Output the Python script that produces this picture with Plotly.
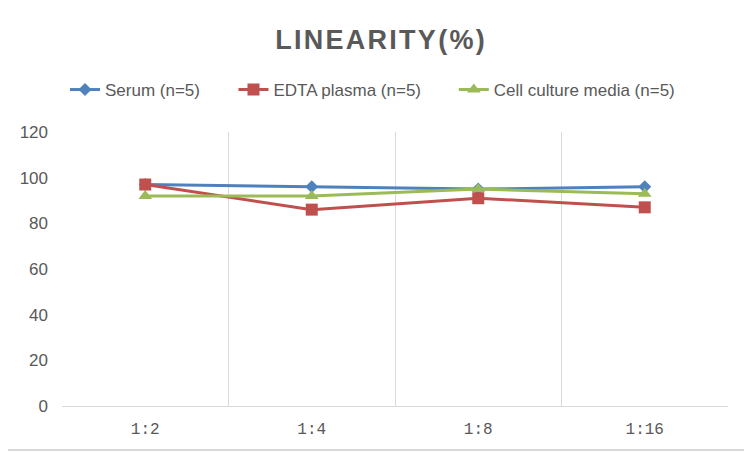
import plotly.graph_objects as go

categories = ["1:2", "1:4", "1:8", "1:16"]
serum = [97, 96, 95, 96]
edta_plasma = [97, 86, 91, 87]
cell_culture = [92, 92, 95, 93]
series_names = ["Serum (n=5)", "EDTA plasma (n=5)", "Cell culture media (n=5)"]
y_ticks = [0, 20, 40, 60, 80, 100, 120]

colors = ["#4f81bd", "#c0504d", "#9bbb59"]
symbols = ["diamond", "square", "triangle-up"]
msizes = [10, 12, 12]
legend_ids = ["legend", "legend2", "legend3"]
legend_px = [55, 224, 445]  # left edge of each legend entry, figure pixels

xpos = list(range(len(categories)))

# page body has an 8px margin, so the figure is drawn 8px smaller and shifted
W, H = 744, 444
ml, mr, mt, mb = 52, 24, 124, 46
pw, ph = W - ml - mr, H - mt - mb

fig = go.Figure()
for name, vals, c, s, ms, lg in zip(series_names, [serum, edta_plasma, cell_culture], colors, symbols, msizes, legend_ids):
    fig.add_trace(go.Scatter(x=xpos, y=vals, name=name, mode="lines+markers", legend=lg,
                             line=dict(color=c, width=3),
                             marker=dict(symbol=s, size=ms, color=c)))

title = "\u200a".join("LINEARITY(%)")

legend_style = dict(orientation="h", xanchor="left", y=(H - mb - 82) / ph, yanchor="middle",
                    font=dict(family="Liberation Sans", size=17, color="#595959"),
                    bgcolor="rgba(0,0,0,0)")

fig.update_layout(
    width=W, height=H,
    margin=dict(l=ml, r=mr, t=mt, b=mb),
    paper_bgcolor="white", plot_bgcolor="white",
    title=dict(text="<b>" + title + "</b>", x=0.5, xanchor="center", y=1 - 32 / H, yanchor="middle",
               font=dict(family="Liberation Sans", size=27, color="#595959")),
    showlegend=True,
    xaxis=dict(range=[-0.5, len(categories) - 0.5], tickmode="array", tickvals=xpos, ticktext=categories,
               showgrid=False, zeroline=False, showline=True, linecolor="#d9d9d9", linewidth=1,
               ticks="", ticklabelstandoff=8,
               tickfont=dict(family="Liberation Mono", size=16, color="#595959"),
               minor=dict(tickmode="array", tickvals=[i + 0.5 for i in xpos[:-1]] + [-0.5, len(categories) - 0.5],
                          showgrid=True, gridcolor="#d9d9d9", gridwidth=1, ticks="")),
    yaxis=dict(range=[0, 120], tickmode="array", tickvals=y_ticks, showgrid=False, zeroline=False,
               showline=False, ticks="", ticklabelstandoff=13,
               tickfont=dict(family="Liberation Sans", size=17, color="#595959")),
)
for lg, px in zip(legend_ids, legend_px):
    fig.update_layout({lg: dict(legend_style, x=(px - ml) / pw)})

# outer chart border
fig.add_shape(type="rect", xref="paper", yref="paper",
              x0=-(ml + 8) / pw, x1=1 + (mr - 3) / pw, y0=-(mb - 2) / ph, y1=1 + (mt + 8) / ph,
              line=dict(color="#d9d9d9", width=2), fillcolor="rgba(0,0,0,0)", layer="below")

fig.write_html("out.html")
